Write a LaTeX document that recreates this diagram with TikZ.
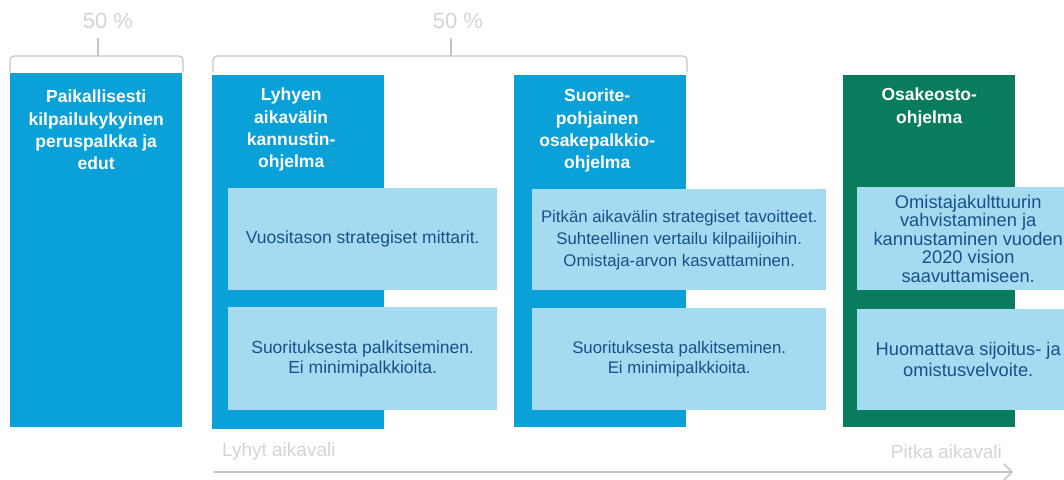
\documentclass[tikz,border=0pt]{standalone}
\usepackage{fontspec}
\setmainfont{Liberation Sans}
\usetikzlibrary{arrows.meta,positioning}
\definecolor{barblue}{RGB}{10,160,216}
\definecolor{bargreen}{RGB}{8,124,92}
\definecolor{boxblue}{RGB}{164,219,241}
\definecolor{boxtext}{RGB}{24,80,138}
\definecolor{guide}{RGB}{196,196,196}
\definecolor{faint}{RGB}{212,212,212}
\tikzset{bar/.style={fill=#1, draw=none, anchor=north west, inner sep=0pt,
                     minimum width=172pt, minimum height=354pt},
         title/.style={text=white, align=center, inner sep=0pt,
                       font=\bfseries\fontsize{17.5}{22.3}\selectfont},
         card/.style={fill=boxblue, anchor=north west, inner sep=0pt, align=center,
                      text=boxtext, font=\fontsize{17.5}{20}\selectfont},
         brace/.style={guide, line width=1.2pt, rounded corners=4pt},
         pct/.style={text=faint, inner sep=0pt, font=\fontsize{22}{24}\selectfont},
         span/.style={text=faint, inner sep=0pt, font=\fontsize{19}{21}\selectfont}}
\begin{document}
\begin{tikzpicture}[x=1pt,y=-1pt]
\clip (0,0) rectangle (1064,479);
\node[bar=barblue] (b1) at (10,73) {};
\node[bar=barblue] (b2) at (212,75) {};
\node[bar=barblue, minimum height=352pt] (b3) at (514,75) {};
\node[bar=bargreen, minimum height=352pt] (b4) at (843,75) {};
\node[title, below=17pt of b1.north] (t1) {Paikallisesti\\kilpailukykyinen\\peruspalkka ja\\edut};
\node[title, below=13pt of b2.north, xshift=-7pt] (t2) {Lyhyen\\aikavälin\\kannustin-\\ohjelma};
\node[title, below=14pt of b3.north, xshift=-3pt] (t3) {Suorite-\\pohjainen\\osakepalkkio-\\ohjelma};
\node[title, below=13pt of b4.north] (t4) {Osakeosto-\\ohjelma};
\node[card, minimum width=269pt, minimum height=102pt] (c2a) at (228,188) {Vuositason strategiset mittarit.};
\node[card, minimum width=269pt, minimum height=103pt] (c2b) at (228,307) {Suorituksesta palkitseminen.\\Ei minimipalkkioita.};
\node[card, minimum width=294pt, minimum height=101pt,
      font=\fontsize{16.8}{22}\selectfont] (c3a) at (532,189) {Pitkän aikavälin strategiset tavoitteet.\\Suhteellinen vertailu kilpailijoihin.\\Omistaja-arvon kasvattaminen.};
\node[card, minimum width=294pt, minimum height=102pt,
      font=\fontsize{16.8}{20.5}\selectfont] (c3b) at (532,308) {Suorituksesta palkitseminen.\\Ei minimipalkkioita.};
\node[card, minimum width=222pt, minimum height=103pt,
      font=\fontsize{18.3}{18.6}\selectfont] (c4a) at (857,187) {Omistajakulttuurin\\vahvistaminen ja\\kannustaminen vuoden\\2020 vision\\saavuttamiseen.};
\node[card, minimum width=222pt, minimum height=101pt,
      font=\fontsize{18.3}{21}\selectfont] (c4b) at (857,309) {Huomattava sijoitus- ja\\omistusvelvoite.};
\node[pct] (p1) at (108,21) {50 \%};
\node[pct] (p2) at (458,21) {50 \%};
\draw[brace] (10,72) -- (10,56) -- (183,56) -- (183,72);
\draw[brace] (213,72) -- (213,56) -- (687,56) -- (687,72);
\coordinate (k1) at (98,56);
\coordinate (k2) at (451,56);
\draw[guide, line width=1.2pt] (k1) -- ++(0,-18);
\draw[guide, line width=1.2pt] (k2) -- ++(0,-18);
\node[span, anchor=west] (lo) at (222,452) {Lyhyt aikavali};
\node[span, anchor=east] (hi) at (1002,452) {Pitka aikavali};
\coordinate (a0) at (214,472);
\coordinate (a1) at (1013,472);
\draw[guide, line width=1.5pt, -{Straight Barb[length=8pt,width=16pt]}] (a0) -- (a1);
\end{tikzpicture}
\end{document}
